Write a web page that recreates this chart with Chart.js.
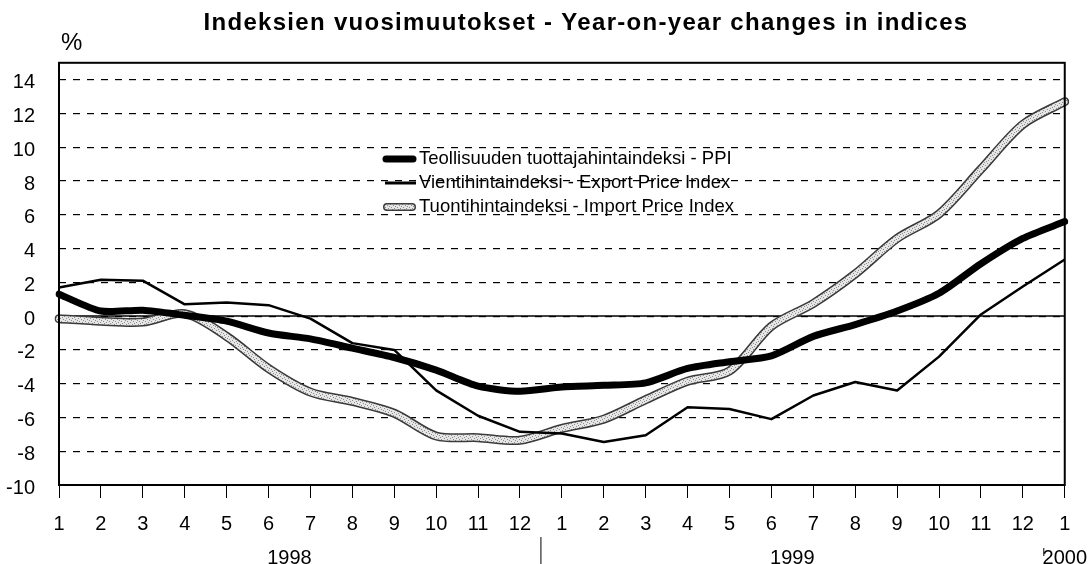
<!DOCTYPE html>
<html>
<head>
<meta charset="utf-8">
<title>Indeksien vuosimuutokset</title>
<script src="https://cdn.jsdelivr.net/npm/chart.js@4.4.1/dist/chart.umd.min.js"></script>
<style>
  html, body { margin: 0; padding: 0; background: #fff; }
  #wrap { width: 1090px; height: 564px; }
</style>
</head>
<body>
<div id="wrap"><canvas id="chart" width="1090" height="564"></canvas></div>
<script>
// Months 1998/1 ... 2000/1
const months = ['1','2','3','4','5','6','7','8','9','10','11','12',
                '1','2','3','4','5','6','7','8','9','10','11','12','1'];
const yearLabels = ['1998', '1999', '2000'];
const yearCentres = [5.5, 17.5, 24];   // category index under which each year sits
const yearBreaks = [11.5, 23.5];       // small separators between years
const yTicks = [-10, -8, -6, -4, -2, 0, 2, 4, 6, 8, 10, 12, 14];

const seriesNames = [
    'Teollisuuden tuottajahintaindeksi - PPI',
    'Vientihintaindeksi - Export Price Index',
    'Tuontihintaindeksi - Import Price Index'
];

// Year-on-year change, %
const ppi = [1.3, 0.3, 0.35, 0.05, -0.3, -1.0, -1.35, -1.9, -2.45, -3.2, -4.15, -4.45,
             -4.2, -4.1, -3.95, -3.1, -2.7, -2.35, -1.2, -0.5, 0.3, 1.35, 3.1, 4.6, 5.6];
const exportIdx = [1.7, 2.15, 2.1, 0.7, 0.8, 0.65, -0.15, -1.6, -2.0, -4.4, -5.9, -6.85,
                   -6.95, -7.45, -7.05, -5.4, -5.5, -6.1, -4.7, -3.9, -4.4, -2.4, 0.1, 1.75, 3.35];
const importIdx = [-0.15, -0.3, -0.35, 0.15, -1.2, -3.1, -4.5, -5.05, -5.75, -7.1, -7.2, -7.35,
                   -6.65, -6.1, -4.95, -3.85, -3.25, -0.6, 0.75, 2.5, 4.6, 6.05, 8.7, 11.35, 12.7];

const SANS = '"Liberation Sans", Arial, Helvetica, sans-serif';

const canvas = document.getElementById('chart');
const ctx = canvas.getContext('2d');

// Speckled grey texture for the import line
function makeSpeckle() {
    const c = document.createElement('canvas');
    c.width = 6;
    c.height = 6;
    const g = c.getContext('2d');
    g.fillStyle = '#e6e6e6';
    g.fillRect(0, 0, 6, 6);
    g.fillStyle = '#8c8c8c';
    [[0, 0], [3, 1], [1, 3], [4, 4], [5, 2], [2, 5]].forEach(p => g.fillRect(p[0], p[1], 1, 1));
    return ctx.createPattern(c, 'repeat');
}
const speckle = makeSpeckle();

// Centre the title where the original has it, and space its letters a little
const titleTweak = {
    id: 'titleTweak',
    afterLayout(chart) {
        const tb = chart.titleBlock;
        if (!tb) return;
        const d = 586 - (tb.left + tb.right) / 2;
        tb.left += d;
        tb.right += d;
        if (!tb._spaced) {
            const draw = tb.draw;
            tb.draw = function(area) {
                this.ctx.letterSpacing = '1.3px';
                draw.call(this, area);
                this.ctx.letterSpacing = '0px';
            };
            tb._spaced = true;
        }
    }
};

// Zero line, frame, "%" label, year separators and the legend inside the plot
const decorations = {
    id: 'decorations',
    beforeDatasetsDraw(chart) {
        const {ctx, chartArea, scales} = chart;
        const y0 = scales.y.getPixelForValue(0);
        ctx.save();
        ctx.strokeStyle = '#000';
        ctx.lineWidth = 1.5;
        ctx.beginPath();
        ctx.moveTo(chartArea.left, y0);
        ctx.lineTo(chartArea.right, y0);
        ctx.stroke();
        ctx.restore();
    },
    afterDatasetsDraw(chart) {
        const {ctx, chartArea, scales} = chart;
        ctx.save();
        ctx.strokeStyle = '#000';
        ctx.lineWidth = 2;
        ctx.strokeRect(chartArea.left, chartArea.top, chartArea.right - chartArea.left, chartArea.bottom - chartArea.top);

        // "%" unit above the y axis
        ctx.fillStyle = '#000';
        ctx.font = '24px ' + SANS;
        ctx.textAlign = 'left';
        ctx.textBaseline = 'middle';
        ctx.fillText('%', chartArea.left + 2, 43);

        // separators between years
        const yr = scales.year;
        ctx.lineWidth = 1;
        const x1 = scales.x.getPixelForValue(yearBreaks[0]);
        ctx.beginPath();
        ctx.moveTo(x1, yr.top + 2);
        ctx.lineTo(x1, yr.bottom);
        const x2 = scales.x.getPixelForValue(yearBreaks[1]);
        ctx.moveTo(x2, yr.top + 13);
        ctx.lineTo(x2, yr.top + 21);
        ctx.stroke();

        // legend
        const lx = 383, tx = 419;
        const rows = [159, 183, 207];
        ctx.font = '18.5px ' + SANS;
        ctx.textBaseline = 'middle';
        ctx.lineCap = 'round';
        // PPI
        ctx.lineWidth = 7;
        ctx.beginPath();
        ctx.moveTo(lx + 3, rows[0]);
        ctx.lineTo(lx + 30, rows[0]);
        ctx.stroke();
        // export
        ctx.lineCap = 'butt';
        ctx.lineWidth = 3;
        ctx.beginPath();
        ctx.moveTo(lx + 2, rows[1]);
        ctx.lineTo(lx + 33, rows[1]);
        ctx.stroke();
        // import
        ctx.lineCap = 'round';
        ctx.lineWidth = 8;
        ctx.strokeStyle = '#3a3a3a';
        ctx.beginPath();
        ctx.moveTo(lx + 4, rows[2]);
        ctx.lineTo(lx + 29, rows[2]);
        ctx.stroke();
        ctx.lineWidth = 5;
        ctx.strokeStyle = speckle;
        ctx.stroke();

        seriesNames.forEach((name, i) => ctx.fillText(name, tx, rows[i]));
        ctx.restore();
    }
};

const lineBase = { pointRadius: 0, pointHoverRadius: 0, fill: false, borderJoinStyle: 'round' };

new Chart(ctx, {
    type: 'line',
    data: {
        labels: months,
        datasets: [
            Object.assign({ label: seriesNames[0], data: ppi, borderColor: '#000', borderWidth: 7,
                tension: 0.25, borderCapStyle: 'round' }, lineBase),
            Object.assign({ label: seriesNames[1], data: exportIdx, borderColor: '#000', borderWidth: 2.5,
                tension: 0 }, lineBase),
            Object.assign({ label: seriesNames[2], data: importIdx, borderColor: speckle, borderWidth: 6,
                tension: 0.3, borderCapStyle: 'round' }, lineBase),
            Object.assign({ label: 'import outline', data: importIdx, borderColor: '#3a3a3a', borderWidth: 9,
                tension: 0.3, borderCapStyle: 'round' }, lineBase)
        ]
    },
    options: {
        responsive: false,
        animation: false,
        layout: { padding: { left: 0, right: 23, top: 0, bottom: 0 } },
        plugins: {
            legend: { display: false },
            tooltip: { enabled: false },
            title: {
                display: true,
                text: 'Indeksien vuosimuutokset - Year-on-year changes in indices',
                color: '#000',
                font: { family: SANS, size: 24, weight: 'bold' },
                padding: { top: 9, bottom: 25 }
            }
        },
        scales: {
            x: {
                type: 'category',
                offset: false,
                weight: 0,
                grid: {
                    display: true,
                    drawOnChartArea: false,
                    drawTicks: true,
                    tickLength: 13,
                    tickColor: '#000',
                    tickWidth: 1
                },
                border: { display: false },
                ticks: {
                    color: '#000',
                    font: { family: SANS, size: 20 },
                    padding: 14,
                    autoSkip: false,
                    maxRotation: 0
                },
                afterFit(scale) { scale.height = 50; }
            },
            year: {
                type: 'linear',
                position: 'bottom',
                weight: 1,
                min: 0,
                max: months.length - 1,
                grid: { display: false },
                border: { display: false },
                afterBuildTicks(scale) {
                    scale.ticks = yearCentres.map(v => ({ value: v }));
                },
                ticks: {
                    color: '#000',
                    font: { family: SANS, size: 20 },
                    padding: 3,
                    autoSkip: false,
                    maxRotation: 0,
                    callback: (v, i) => yearLabels[i]
                },
                afterFit(scale) { scale.height = 29; }
            },
            y: {
                min: -10,
                max: 15,
                afterBuildTicks(scale) {
                    scale.ticks = yTicks.map(v => ({ value: v }));
                },
                grid: {
                    color: '#000',
                    lineWidth: 1.2,
                    drawTicks: false
                },
                border: { display: false, dash: [7, 7] },
                ticks: {
                    color: '#000',
                    font: { family: SANS, size: 20 },
                    padding: 24,
                    labelOffset: 3
                },
                afterFit(scale) { scale.width = 59; }
            }
        }
    },
    plugins: [titleTweak, decorations]
});
</script>
</body>
</html>
